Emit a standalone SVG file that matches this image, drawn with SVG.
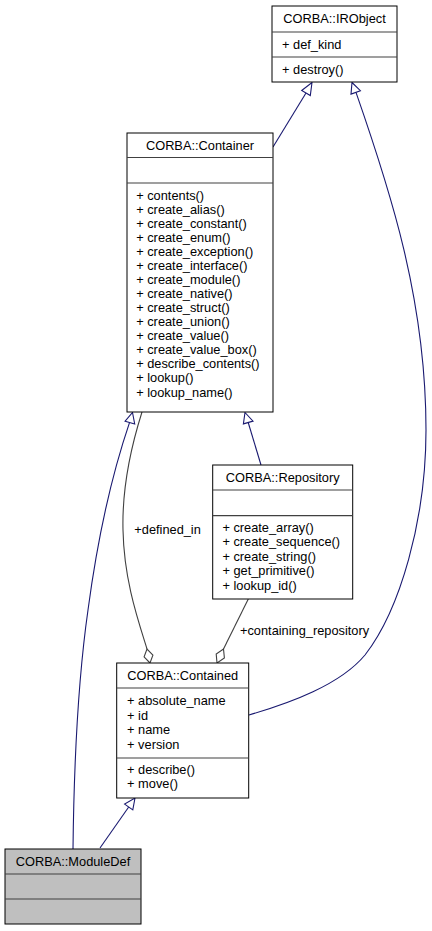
<svg xmlns="http://www.w3.org/2000/svg" width="432" height="931" viewBox="0 0 432 931">
<style>
text{font-family:"Liberation Sans",Arial,sans-serif;font-size:12.8px;fill:#000}
.t{text-anchor:middle}
.box{fill:#fff;stroke:#000;stroke-width:1}
.gray{fill:#bfbfbf}
.sep{stroke:#404040;stroke-width:1.2}
.inh{fill:none;stroke:#191970;stroke-width:1.1}
.ah{fill:#fff;stroke:#191970;stroke-width:1.1}
.agg{fill:none;stroke:#404040;stroke-width:1.1}
.dia{fill:#fff;stroke:#404040;stroke-width:1.1}
</style>
<rect width="432" height="931" fill="#fff"/>
<g id="edges">
<path class="inh" d="M273,147 L306,93"/>
<polygon class="ah" points="312,82.5 310.3,95.5 301.7,90.5"/>
<path class="inh" d="M249,715 C290,703 340,685 365,655 C400,610 426,520 426,430 C426,300 390,190 356,92.4"/>
<polygon class="ah" points="352,82.5 360.4,90.7 351,94.1"/>
<path class="inh" d="M261,465 L248.2,422.5"/>
<polygon class="ah" points="245,412.5 253,421.1 243.4,423.9"/>
<path class="inh" d="M73,849 C74,760 78,680 88,610 C96,550 110,480 129.5,422.6"/>
<polygon class="ah" points="132.5,412.5 134.7,424 125.1,421.2"/>
<path class="inh" d="M100,848 L128.7,807"/>
<polygon class="ah" points="135,798 132.8,809.9 124.6,804.1"/>
<path class="agg" d="M142,412 C130,450 122,490 123,530 C124,580 138,620 147,649"/>
<polygon class="dia" points="150,663 144.1,656.9 147,649 152.9,655.1"/>
<text x="134.3" y="534">+defined_in</text>
<path class="agg" d="M248.3,599 L223.5,649"/>
<polygon class="dia" points="217,663 216.2,654.1 223.5,649 224.4,657.9"/>
<text x="240" y="634.5">+containing_repository</text>
</g>
<g id="IRObject">
<rect class="box" x="272" y="6" width="125" height="76"/>
<line class="sep" x1="272" y1="32" x2="397" y2="32"/>
<line class="sep" x1="272" y1="57" x2="397" y2="57"/>
<text class="t" x="334.5" y="23">CORBA::IRObject</text>
<text x="282" y="48.5">+ def_kind</text>
<text x="282" y="74">+ destroy()</text>
</g>
<g id="Container">
<rect class="box" x="127" y="133" width="146" height="279"/>
<line class="sep" x1="127" y1="157.5" x2="273" y2="157.5"/>
<line class="sep" x1="127" y1="183" x2="273" y2="183"/>
<text class="t" x="200" y="149.5">CORBA::Container</text>
<text x="136.2" y="199.5">+ contents()</text>
<text x="136.2" y="213.6">+ create_alias()</text>
<text x="136.2" y="227.6">+ create_constant()</text>
<text x="136.2" y="241.7">+ create_enum()</text>
<text x="136.2" y="255.8">+ create_exception()</text>
<text x="136.2" y="269.9">+ create_interface()</text>
<text x="136.2" y="283.9">+ create_module()</text>
<text x="136.2" y="298">+ create_native()</text>
<text x="136.2" y="312.1">+ create_struct()</text>
<text x="136.2" y="326.1">+ create_union()</text>
<text x="136.2" y="340.2">+ create_value()</text>
<text x="136.2" y="354.3">+ create_value_box()</text>
<text x="136.2" y="368.4">+ describe_contents()</text>
<text x="136.2" y="382.4">+ lookup()</text>
<text x="136.2" y="396.5">+ lookup_name()</text>
</g>
<g id="Repository">
<rect class="box" x="212.7" y="465" width="140" height="134"/>
<line class="sep" x1="212.7" y1="490" x2="352.7" y2="490"/>
<line class="sep" x1="212.7" y1="515.7" x2="352.7" y2="515.7"/>
<text class="t" x="282.7" y="482">CORBA::Repository</text>
<text x="222.4" y="531.5">+ create_array()</text>
<text x="222.4" y="546">+ create_sequence()</text>
<text x="222.4" y="560.5">+ create_string()</text>
<text x="222.4" y="575">+ get_primitive()</text>
<text x="222.4" y="589.5">+ lookup_id()</text>
</g>
<g id="Contained">
<rect class="box" x="116.7" y="663" width="132" height="135"/>
<line class="sep" x1="116.7" y1="688" x2="248.7" y2="688"/>
<line class="sep" x1="116.7" y1="758" x2="248.7" y2="758"/>
<text class="t" x="182.7" y="680">CORBA::Contained</text>
<text x="127.1" y="705">+ absolute_name</text>
<text x="127.1" y="719.7">+ id</text>
<text x="127.1" y="734.3">+ name</text>
<text x="127.1" y="749">+ version</text>
<text x="127.1" y="773.5">+ describe()</text>
<text x="127.1" y="788">+ move()</text>
</g>
<g id="ModuleDef">
<rect class="box gray" x="5" y="849" width="136" height="75"/>
<line class="sep" x1="5" y1="874" x2="141" y2="874"/>
<line class="sep" x1="5" y1="899" x2="141" y2="899"/>
<text class="t" x="73" y="866">CORBA::ModuleDef</text>
</g>
</svg>
